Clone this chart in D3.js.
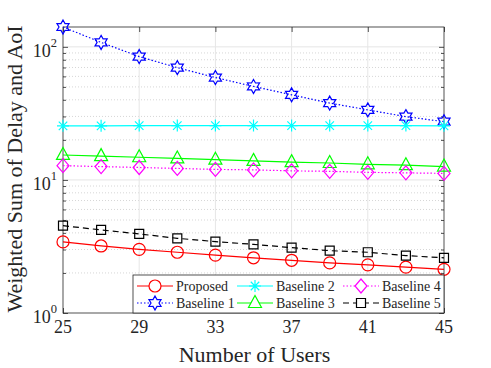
<!DOCTYPE html>
<html lang="en">
<head>
<meta charset="utf-8">
<title>Weighted Sum of Delay and AoI</title>
<script src="https://d3js.org/d3.v7.min.js"></script>
<style>
body { margin: 0; background: #fff; }
svg { display: block; }
svg text { font-family: "Liberation Serif", "DejaVu Serif", serif; }
.tick-label { font-size: 18px; fill: #262626; }
.axis-title { font-size: 22px; fill: #262626; }
.legend text { font-size: 14px; fill: #262626; }
</style>
</head>
<body>
<svg id="chart" width="491" height="368"></svg>
<script>

// number of users
var users = [25, 27, 29, 31, 33, 35, 37, 39, 41, 43, 45];
var xTicks = [25, 29, 33, 37, 41, 45];

// series values
var proposed  = [3.42, 3.19, 3.01, 2.86, 2.72, 2.60, 2.49, 2.38, 2.30, 2.21, 2.13];
var baseline1 = [141, 108, 84.5, 69.8, 58.8, 50.4, 43.6, 37.8, 33.6, 29.9, 27.4];
var baseline2 = [25.5, 25.5, 25.6, 25.6, 25.6, 25.6, 25.6, 25.6, 25.6, 25.6, 25.5];
var baseline3 = [15.4, 15.1, 14.8, 14.5, 14.2, 13.9, 13.6, 13.4, 13.1, 12.9, 12.6];
var baseline4 = [12.8, 12.6, 12.4, 12.2, 12.0, 11.9, 11.7, 11.6, 11.4, 11.3, 11.2];
var baseline5 = [4.53, 4.21, 3.93, 3.64, 3.44, 3.28, 3.10, 2.94, 2.86, 2.70, 2.60];

var series = [
  { name: "Proposed",   values: proposed,  color: "#ff0000", dash: null,  marker: "circle" },
  { name: "Baseline 1", values: baseline1, color: "#0000ff", dash: "1.5,2", marker: "hexagram" },
  { name: "Baseline 2", values: baseline2, color: "#00ffff", dash: null,  marker: "asterisk" },
  { name: "Baseline 3", values: baseline3, color: "#00ff00", dash: null,  marker: "triangle" },
  { name: "Baseline 4", values: baseline4, color: "#ff00ff", dash: "1.5,2", marker: "diamond" },
  { name: "Baseline 5", values: baseline5, color: "#000000", dash: "6,4", marker: "square" }
];

var svg = d3.select("#chart");
var plotL = 63, plotR = 444, plotT = 27, plotB = 313;

var x = d3.scaleLinear().domain([25, 45]).range([plotL, plotR]);
var y = d3.scaleLog().domain([1, 141]).range([plotB, plotT]);

var axisColor = "#262626";

// minor grid (dotted)
var minor = [];
[1, 10, 100].forEach(function(d) {
  for (var k = 2; k <= 9; k++) if (d * k <= 141) minor.push(d * k);
});
svg.append("g").selectAll("line").data(minor).enter().append("line")
    .attr("x1", plotL).attr("x2", plotR)
    .attr("y1", function(d) { return y(d); }).attr("y2", function(d) { return y(d); })
    .attr("stroke", "#d6d6d6").attr("stroke-width", 1).attr("stroke-dasharray", "1,2");

// major grid
svg.append("g").selectAll("line").data([10, 100]).enter().append("line")
    .attr("x1", plotL).attr("x2", plotR)
    .attr("y1", function(d) { return y(d); }).attr("y2", function(d) { return y(d); })
    .attr("stroke", "#e6e6e6").attr("stroke-width", 1);
svg.append("g").selectAll("line").data(xTicks.slice(1, -1)).enter().append("line")
    .attr("x1", function(d) { return x(d); }).attr("x2", function(d) { return x(d); })
    .attr("y1", plotT).attr("y2", plotB)
    .attr("stroke", "#e6e6e6").attr("stroke-width", 1);

// axes with inward ticks
svg.append("g").attr("transform", "translate(0," + plotB + ")")
    .call(d3.axisBottom(x).tickValues(xTicks).tickSize(-5).tickSizeOuter(0).tickFormat(""));
svg.append("g").attr("transform", "translate(0," + plotT + ")")
    .call(d3.axisTop(x).tickValues(xTicks).tickSize(-5).tickSizeOuter(0).tickFormat(""));
svg.append("g").attr("transform", "translate(" + plotL + ",0)")
    .call(d3.axisLeft(y).tickValues([1, 10, 100]).tickSize(-5).tickSizeOuter(0).tickFormat(""));
svg.append("g").attr("transform", "translate(" + plotR + ",0)")
    .call(d3.axisRight(y).tickValues([1, 10, 100]).tickSize(-5).tickSizeOuter(0).tickFormat(""));
svg.append("g").attr("transform", "translate(" + plotL + ",0)")
    .call(d3.axisLeft(y).tickValues(minor).tickSize(-3).tickSizeOuter(0).tickFormat(""));
svg.append("g").attr("transform", "translate(" + plotR + ",0)")
    .call(d3.axisRight(y).tickValues(minor).tickSize(-3).tickSizeOuter(0).tickFormat(""));
svg.selectAll(".domain").remove();
svg.selectAll(".tick line").attr("stroke", axisColor).attr("stroke-width", 0.8);

svg.append("rect").attr("x", plotL).attr("y", plotT)
    .attr("width", plotR - plotL).attr("height", plotB - plotT)
    .attr("fill", "none").attr("stroke", axisColor).attr("stroke-width", 0.8);

// tick labels
svg.append("g").selectAll("text").data(xTicks).enter().append("text")
    .attr("class", "tick-label")
    .attr("x", function(d) { return x(d); }).attr("y", plotB + 20)
    .attr("text-anchor", "middle")
    .text(function(d) { return d; });

var yl = svg.append("g").selectAll("text").data([1, 10, 100]).enter().append("text")
    .attr("class", "tick-label")
    .attr("x", plotL - 6).attr("y", function(d) { return y(d) + 10; })
    .attr("text-anchor", "end");
yl.append("tspan").text("10");
yl.append("tspan").attr("dy", -10).attr("font-size", "12.5px")
    .text(function(d) { return Math.round(Math.log10(d)); });

// axis titles
svg.append("text").attr("class", "axis-title")
    .attr("x", (plotL + plotR) / 2 + 1).attr("y", 362)
    .attr("text-anchor", "middle").text("Number of Users");
svg.append("text").attr("class", "axis-title")
    .attr("transform", "translate(22,169) rotate(-90)")
    .attr("text-anchor", "middle").text("Weighted Sum of Delay and AoI");

// marker shapes
function markerPath(type) {
  var p = d3.path(), i, a;
  if (type === "circle") { p.arc(0, 0, 6, 0, 2 * Math.PI); return p.toString(); }
  if (type === "square") { p.rect(-4.5, -4.5, 9, 9); return p.toString(); }
  if (type === "diamond") { p.moveTo(0, -7); p.lineTo(6, 0); p.lineTo(0, 7); p.lineTo(-6, 0); p.closePath(); return p.toString(); }
  if (type === "triangle") { p.moveTo(0, -7.5); p.lineTo(6.5, 4.5); p.lineTo(-6.5, 4.5); p.closePath(); return p.toString(); }
  if (type === "asterisk") {
    for (i = 0; i < 4; i++) {
      a = i * Math.PI / 4;
      p.moveTo(-6 * Math.cos(a), -6 * Math.sin(a)); p.lineTo(6 * Math.cos(a), 6 * Math.sin(a));
    }
    return p.toString();
  }
  if (type === "hexagram") {
    for (i = 0; i < 12; i++) {
      a = -Math.PI / 2 + i * Math.PI / 6;
      var r = i % 2 === 0 ? 7 : 4;
      if (i === 0) p.moveTo(r * Math.cos(a), r * Math.sin(a)); else p.lineTo(r * Math.cos(a), r * Math.sin(a));
    }
    p.closePath();
    return p.toString();
  }
}

var line = d3.line()
    .x(function(d, i) { return x(users[i]); })
    .y(function(d) { return y(d); });

series.forEach(function(s) {
  var g = svg.append("g");
  g.append("path").attr("d", line(s.values))
      .attr("fill", "none").attr("stroke", s.color).attr("stroke-width", 1.2)
      .attr("stroke-dasharray", s.dash);
  g.selectAll("path.m").data(s.values).enter().append("path")
      .attr("class", "m")
      .attr("transform", function(d, i) { return "translate(" + x(users[i]) + "," + y(d) + ")"; })
      .attr("d", markerPath(s.marker))
      .attr("fill", "none").attr("stroke", s.color).attr("stroke-width", 1.2);
});

// legend
var legend = svg.append("g").attr("class", "legend");
legend.append("rect").attr("x", 133).attr("y", 275).attr("width", 311).attr("height", 38)
    .attr("fill", "#fff").attr("stroke", axisColor).attr("stroke-width", 0.8);
var colX = [137, 237, 343];
var rowY = [286, 303];
series.forEach(function(s, i) {
  var cx = colX[Math.floor(i / 2)], cy = rowY[i % 2];
  var e = legend.append("g").attr("transform", "translate(" + cx + "," + cy + ")");
  e.append("line").attr("x1", 0).attr("x2", 36).attr("y1", 0).attr("y2", 0)
      .attr("stroke", s.color).attr("stroke-width", 1.2).attr("stroke-dasharray", s.dash);
  e.append("path").attr("transform", "translate(18,0)").attr("d", markerPath(s.marker))
      .attr("fill", "#fff").attr("stroke", s.color).attr("stroke-width", 1.2);
  e.append("text").attr("x", 39).attr("y", 5).text(s.name);
});

</script>
</body>
</html>
